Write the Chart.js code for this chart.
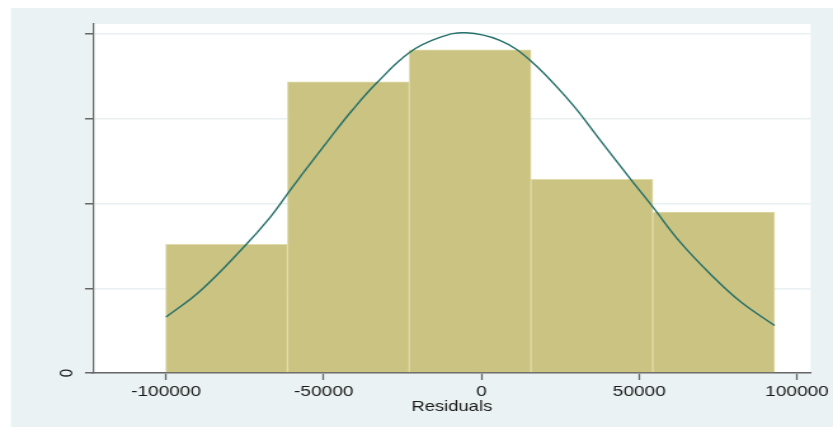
<!DOCTYPE html>
<html>
<head>
<meta charset="utf-8">
<script src="https://cdn.jsdelivr.net/npm/chart.js@4.4.1/dist/chart.umd.min.js"></script>
<style>
  html, body { margin: 0; padding: 0; background: #fff; overflow: hidden; }
</style>
</head>
<body>
<!-- the reference looks horizontally stretched, so draw narrow and stretch with css -->
<canvas id="hist" width="656" height="427" style="display:block;width:833px;height:427px"></canvas>
<script>
// histogram bins (density), bin width 38600
const binCenters = [-80800, -42200, -3600, 35000, 73600];
const binDensity = [3.04e-6, 6.87e-6, 7.63e-6, 4.57e-6, 3.80e-6];

// normal density overlay
const curveX = [-100000, -89260, -75640, -67080, -61380, -57580, -48080, -40790, -33180,
  -22720, -13210, -4970, 5800, 15300, 27980, 37480, 46990, 54280, 62830, 72340, 81840, 92900];
const curveY = [1.32e-6, 1.93e-6, 2.95e-6, 3.67e-6, 4.24e-6, 4.62e-6, 5.54e-6, 6.22e-6, 6.85e-6,
  7.57e-6, 7.92e-6, 8.03e-6, 7.85e-6, 7.39e-6, 6.41e-6, 5.51e-6, 4.60e-6, 3.92e-6, 3.10e-6,
  2.35e-6, 1.70e-6, 1.12e-6];

const xTicks = [-100000, -50000, 0, 50000, 100000];
const yTicks = [0, 2e-6, 4e-6, 6e-6, 8e-6];

const W = 656, H = 427;
const SX = 833 / W;
const FONT = "'Liberation Sans', Arial, sans-serif";

const backdrop = {
  id: "backdrop",
  beforeDraw(chart) {
    const ctx = chart.ctx, a = chart.chartArea;
    ctx.save();
    ctx.fillStyle = "#ffffff";
    ctx.fillRect(0, 0, W, H);
    ctx.fillStyle = "#eaf2f3";
    ctx.fillRect(11 / SX, 8, W, H);
    ctx.fillStyle = "#ffffff";
    ctx.fillRect(a.left, a.top, a.right - a.left, a.bottom - a.top);
    ctx.restore();
  },
  afterDraw(chart) {
    // stata draws the y labels turned on their side; only "0" is shown
    const ctx = chart.ctx, y = chart.scales.y;
    ctx.save();
    ctx.translate(67 / SX, y.getPixelForValue(0));
    ctx.rotate(-Math.PI / 2);
    ctx.font = "15px " + FONT;
    ctx.fillStyle = "#1a1a1a";
    ctx.textAlign = "center";
    ctx.textBaseline = "middle";
    ctx.fillText("0", 0, 0);
    ctx.restore();
  }
};

new Chart(document.getElementById("hist"), {
  type: "bar",
  data: {
    datasets: [
      {
        type: "line",
        data: curveX.map((x, i) => ({ x, y: curveY[i] })),
        borderColor: "#26706a",
        borderWidth: 1.4,
        pointRadius: 0,
        tension: 0.4,
        fill: false,
        order: 0
      },
      {
        type: "bar",
        data: binCenters.map((x, i) => ({ x, y: binDensity[i] })),
        backgroundColor: "#cbc381",
        borderColor: "#dfdbab",
        borderWidth: 1,
        barPercentage: 1,
        categoryPercentage: 1,
        order: 1
      }
    ]
  },
  options: {
    responsive: false,
    animation: false,
    devicePixelRatio: 1,
    layout: { padding: { left: 53.2, right: W - 811 / SX, top: 24, bottom: 0 } },
    plugins: { legend: { display: false }, tooltip: { enabled: false } },
    scales: {
      x: {
        type: "linear",
        offset: false,
        min: -123160,
        max: 104340,
        afterBuildTicks: (s) => { s.ticks = xTicks.map(v => ({ value: v })); },
        afterFit: (s) => { s.height = 54; },
        grid: { offset: false, drawOnChartArea: false, tickLength: 7, tickColor: "#666", tickWidth: 1.3 },
        border: { color: "#666", width: 1.5 },
        ticks: {
          padding: 3,
          color: "#1a1a1a",
          font: { family: FONT, size: 15 },
          maxRotation: 0,
          autoSkip: false,
          callback: (v) => String(v)
        },
        title: {
          display: true,
          text: "Residuals",
          color: "#1a1a1a",
          font: { family: FONT, size: 14.5 },
          padding: { top: 0, bottom: 11 }
        }
      },
      y: {
        min: 0,
        max: 8.238e-6,
        afterBuildTicks: (s) => { s.ticks = yTicks.map(v => ({ value: v })); },
        afterFit: (s) => { s.width = 20; },
        grid: { color: "#e9f0f2", lineWidth: 1.5, tickLength: 6.3, tickColor: "#666", tickWidth: 1.5 },
        border: { color: "#666", width: 1.2 },
        ticks: { callback: () => "" }
      }
    }
  },
  plugins: [backdrop]
});
</script>
</body>
</html>
